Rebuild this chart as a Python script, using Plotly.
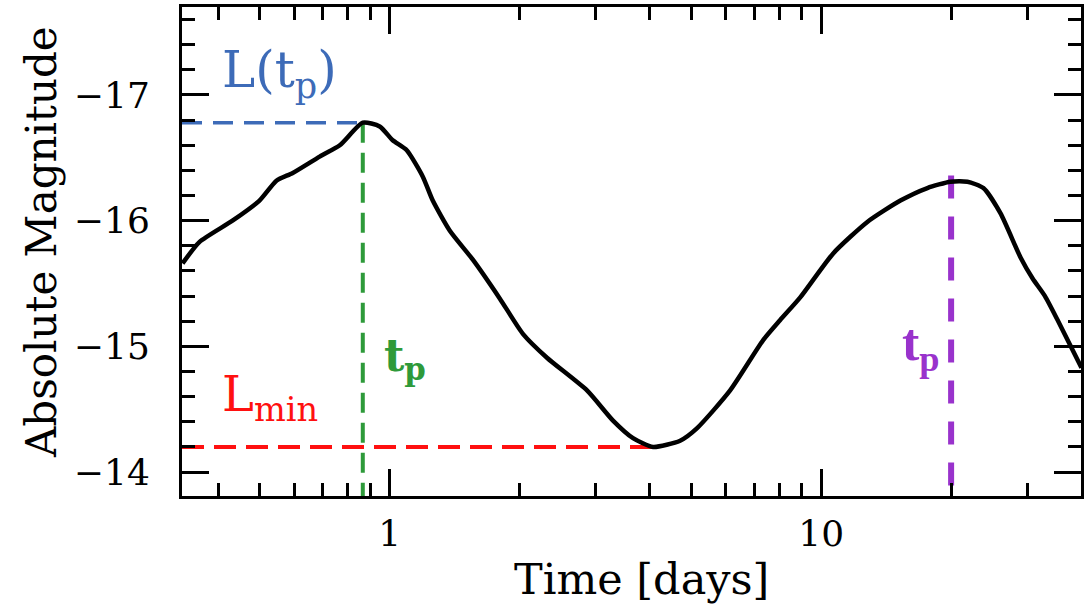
import numpy as np
import plotly.graph_objects as go

# ---- data ----
time_days = [0.331, 0.362, 0.432, 0.499, 0.547, 0.596, 0.688, 0.766, 0.866,
             0.948, 1.016, 1.095, 1.193, 1.258, 1.378, 1.558, 1.800, 2.035,
             2.314, 2.865, 3.292, 3.663, 4.076, 4.709, 5.157, 6.150, 7.336,
             8.034, 8.941, 10.66, 12.79, 15.26, 17.62, 19.92, 21.82, 23.76,
             26.02, 28.95, 30.9, 33.0, 35.3, 40.1]
abs_mag = [-15.66, -15.83, -16.00, -16.16, -16.32, -16.38, -16.51, -16.60, -16.78,
           -16.75, -16.64, -16.56, -16.35, -16.16, -15.92, -15.69, -15.38, -15.10,
           -14.91, -14.65, -14.41, -14.27, -14.20, -14.25, -14.35, -14.65, -15.05,
           -15.21, -15.39, -15.74, -15.99, -16.16, -16.26, -16.31, -16.31, -16.26,
           -16.06, -15.71, -15.54, -15.40, -15.21, -14.83]

peak_time, peak_mag = 0.866, -16.78
min_time, min_mag = 4.08, -14.20
peak2_time, peak2_mag = 20.0, -16.36

x_range = [0.33, 40.0]
y_range = [-13.81, -17.70]

x_tickvals = [1, 10]
x_ticktext = ["1", "10"]
x_minor = [0.4, 0.5, 0.6, 0.7, 0.8, 0.9, 2, 3, 4, 5, 6, 7, 8, 9, 20, 30]
y_tickvals = [-17, -16, -15, -14]
y_ticktext = ["\u221217", "\u221216", "\u221215", "\u221214"]
y_minor = [-17.6, -17.4, -17.2, -16.8, -16.6, -16.4, -16.2, -15.8, -15.6, -15.4,
           -15.2, -14.8, -14.6, -14.4, -14.2, -13.8]

# ---- figure ----
W, H = 1089, 608
L, R, T, B = 182, 8, 7, 112
pw, ph = W - L - R, H - T - B


def px(xp):
    return (xp - L) / pw


def py(yp):
    return (H - B - yp) / ph


fig = go.Figure()

# reference lines
fig.add_trace(go.Scatter(x=[x_range[0], peak_time], y=[peak_mag, peak_mag], mode="lines",
                         line=dict(color="#3d6bb8", width=3.5, dash="20px,11px"),
                         showlegend=False, hoverinfo="skip"))
fig.add_trace(go.Scatter(x=[x_range[0], min_time], y=[min_mag, min_mag], mode="lines",
                         line=dict(color="#ff1010", width=4, dash="22px,10px"),
                         showlegend=False, hoverinfo="skip"))
fig.add_trace(go.Scatter(x=[peak_time, peak_time], y=[peak_mag, y_range[0]], mode="lines",
                         line=dict(color="#2e9a3a", width=4, dash="20px,10px"),
                         showlegend=False, hoverinfo="skip"))
fig.add_trace(go.Scatter(x=[peak2_time, peak2_time], y=[peak2_mag, y_range[0]], mode="lines",
                         line=dict(color="#9932cc", width=6, dash="23px,18px"),
                         showlegend=False, hoverinfo="skip"))

# light curve
fig.add_trace(go.Scatter(x=time_days, y=abs_mag, mode="lines",
                         line=dict(color="black", width=4.5, shape="spline", smoothing=0.6),
                         showlegend=False))

font_fam = "DejaVu Serif"
axis_common = dict(showline=True, linewidth=3, linecolor="black", mirror="ticks",
                   ticks="inside", tickwidth=3, ticklen=27, tickcolor="black",
                   showgrid=False, zeroline=False,
                   tickfont=dict(family=font_fam, size=36, color="black"))

fig.update_xaxes(type="log", range=[np.log10(x_range[0]), np.log10(x_range[1])],
                 tickvals=x_tickvals, ticktext=x_ticktext, ticklabelstandoff=4,
                 minor=dict(tickvals=x_minor, ticks="inside", ticklen=13, tickwidth=3,
                            tickcolor="black", showgrid=False),
                 **axis_common)
fig.update_yaxes(range=y_range, tickvals=y_tickvals, ticktext=y_ticktext,
                 ticklabelstandoff=22,
                 minor=dict(tickvals=y_minor, ticks="inside", ticklen=13, tickwidth=3,
                            tickcolor="black", showgrid=False),
                 **axis_common)

annotations = [
    dict(text="Time [days]", x=px(641), y=py(579), xanchor="center", yanchor="middle",
         font=dict(family=font_fam, size=43, color="black")),
    dict(text="Absolute Magnitude", x=px(42), y=py(242), textangle=-90,
         xanchor="center", yanchor="middle",
         font=dict(family=font_fam, size=42, color="black")),
    dict(text="L(t<sub>p</sub>)", x=px(220), y=py(73), xanchor="left", yanchor="middle",
         font=dict(family=font_fam, size=50, color="#3d6bb8")),
    dict(text="L<sub>min</sub>", x=px(220), y=py(397), xanchor="left", yanchor="middle",
         font=dict(family=font_fam, size=48, color="#ff1010")),
    dict(text="<b>t<sub>p</sub></b>", x=px(382), y=py(358), xanchor="left", yanchor="middle",
         font=dict(family=font_fam, size=44, color="#2e9a3a")),
    dict(text="<b>t<sub>p</sub></b>", x=px(900), y=py(346), xanchor="left", yanchor="middle",
         font=dict(family="Liberation Serif", size=52, color="#9932cc")),
]
for a in annotations:
    a.update(xref="paper", yref="paper", showarrow=False)

fig.update_layout(width=W, height=H, margin=dict(l=L, r=R, t=T, b=B, autoexpand=False),
                  plot_bgcolor="white", paper_bgcolor="white",
                  annotations=annotations, showlegend=False)

fig.write_html("out.html")
